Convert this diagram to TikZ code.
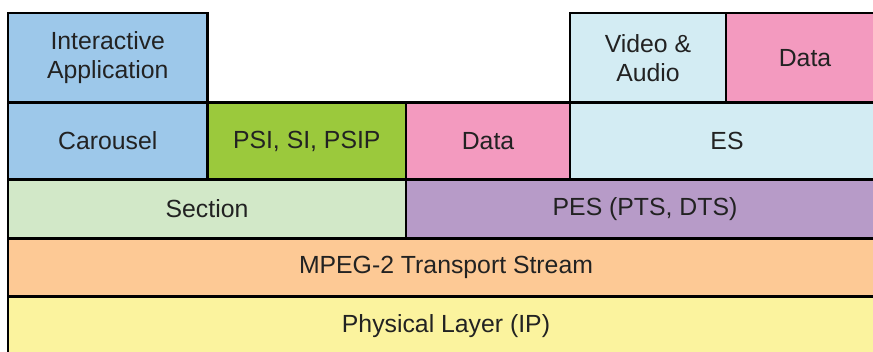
\documentclass[tikz,border=0pt]{standalone}
\usepackage{fontspec}
\setmainfont{Liberation Sans}
\definecolor{txt}{HTML}{222222}
\definecolor{cblue}{HTML}{9DC8EA}
\definecolor{cgreen}{HTML}{9BC93C}
\definecolor{cpink}{HTML}{F39ABF}
\definecolor{clblue}{HTML}{D3ECF3}
\definecolor{clgreen}{HTML}{D2E8C8}
\definecolor{cpurple}{HTML}{B79BC8}
\definecolor{corange}{HTML}{FDC995}
\definecolor{cyellow}{HTML}{FBF39E}
\begin{document}
\begin{tikzpicture}[x=1pt,y=-1pt,
  box/.style={draw=black, line width=2.4pt, inner sep=0pt, outer sep=0pt, align=center,
    text=txt, font=\fontsize{24.8}{29}\selectfont, anchor=north west}]
\useasboundingbox (0,0) rectangle (873,352);
\clip (0,0) rectangle (873,352);
\fill[white] (0,0) rectangle (873,352);
% row 5
\node[box, fill=cyellow, minimum width=876pt, minimum height=60pt] (phy) at (8,296.5) {Physical Layer (IP)};
% row 4
\node[box, fill=corange, minimum width=876pt, minimum height=58pt] (ts) at (8,238.5) {MPEG-2 Transport Stream};
% row 3
\node[box, fill=clgreen, minimum width=398pt, minimum height=59pt] (sec) at (8,179.5) {Section};
\node[box, fill=cpurple, minimum width=478pt, minimum height=59pt] (pes) at (406,179.5) {PES (PTS, DTS)};
% row 2
\node[box, fill=cblue, minimum width=199.5pt, minimum height=77pt] (car) at (8,102.5) {Carousel};
\node[box, fill=cgreen, minimum width=198.5pt, minimum height=77pt] (psi) at (207.5,102.5) {PSI, SI, PSIP};
\node[box, fill=cpink, minimum width=164pt, minimum height=77pt] (data1) at (406,102.5) {Data};
\node[box, fill=clblue, minimum width=314pt, minimum height=77pt] (es) at (570,102.5) {ES};
% row 1
\node[box, fill=cblue, minimum width=199.5pt, minimum height=89.5pt] (ia) at (8,13) {Interactive\\Application};
\node[box, fill=clblue, minimum width=156pt, minimum height=89.5pt] (va) at (570,13) {Video \&\\Audio};
\node[box, fill=cpink, minimum width=158pt, minimum height=89.5pt] (data2) at (726,13) {Data};
\end{tikzpicture}
\end{document}
